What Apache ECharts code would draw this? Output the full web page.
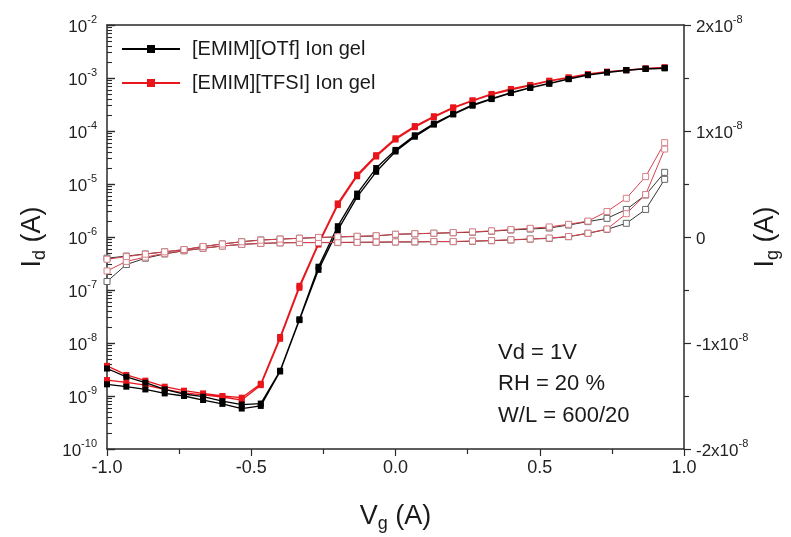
<!DOCTYPE html>
<html>
<head>
<meta charset="utf-8">
<script src="https://cdn.jsdelivr.net/npm/echarts@6/dist/echarts.min.js"></script>
<style>
  html, body { margin: 0; padding: 0; background: #fff; }
  #main { width: 791px; height: 537px; }
</style>
</head>
<body>
<div id="main"></div>
<script>
// gate voltage sweep (V)
const vg = [-1.0, -0.933, -0.867, -0.8, -0.733, -0.667, -0.6, -0.533, -0.467, -0.4,
  -0.333, -0.267, -0.2, -0.133, -0.067, 0.0, 0.067, 0.133, 0.2, 0.267,
  0.333, 0.4, 0.467, 0.533, 0.6, 0.667, 0.733, 0.8, 0.867, 0.933];

// drain current Id (A), forward and reverse sweep
const idOTfFwd = [1.66e-9, 1.5e-9, 1.33e-9, 1.12e-9, 1.0e-9, 8.4e-10, 7.1e-10, 5.8e-10, 6.5e-10, 2.9e-9,
  2.7e-8, 2.4e-7, 1.35e-6, 5.7e-6, 1.7e-5, 4.1e-5, 7.8e-5, 1.32e-4, 2.05e-4, 3.0e-4,
  4.0e-4, 5.2e-4, 6.5e-4, 7.8e-4, 9.5e-4, 1.13e-3, 1.27e-3, 1.40e-3, 1.48e-3, 1.52e-3];
const idOTfRev = [3.3e-9, 2.3e-9, 1.78e-9, 1.33e-9, 1.09e-9, 9.7e-10, 8.0e-10, 6.9e-10, 7.2e-10, 3.0e-9,
  2.8e-8, 2.75e-7, 1.6e-6, 6.6e-6, 2.0e-5, 4.4e-5, 8.3e-5, 1.38e-4, 2.1e-4, 3.1e-4,
  4.1e-4, 5.3e-4, 6.6e-4, 7.9e-4, 9.6e-4, 1.14e-3, 1.28e-3, 1.41e-3, 1.5e-3, 1.55e-3];
const idTFSIFwd = [2.0e-9, 1.8e-9, 1.6e-9, 1.33e-9, 1.15e-9, 1.05e-9, 9.5e-10, 8.4e-10, 1.6e-9, 1.2e-8,
  1.1e-7, 7.2e-7, 4.0e-6, 1.4e-5, 3.3e-5, 6.9e-5, 1.18e-4, 1.82e-4, 2.7e-4, 3.7e-4,
  4.85e-4, 6.0e-4, 7.2e-4, 8.7e-4, 1.01e-3, 1.17e-3, 1.3e-3, 1.4e-3, 1.5e-3, 1.58e-3];
const idTFSIRev = [3.7e-9, 2.5e-9, 1.95e-9, 1.5e-9, 1.26e-9, 1.12e-9, 1.0e-9, 9.3e-10, 1.7e-9, 1.3e-8,
  1.2e-7, 7.7e-7, 4.3e-6, 1.5e-5, 3.5e-5, 7.3e-5, 1.24e-4, 1.9e-4, 2.8e-4, 3.8e-4,
  5.0e-4, 6.2e-4, 7.4e-4, 8.9e-4, 1.03e-3, 1.19e-3, 1.32e-3, 1.41e-3, 1.52e-3, 1.59e-3];

// gate current Ig (A), forward and reverse sweep
const igOTfFwd = [-4.2e-9, -2.6e-9, -2.0e-9, -1.6e-9, -1.3e-9, -1.07e-9, -0.85e-9, -0.7e-9, -0.6e-9, -0.55e-9,
  -0.53e-9, -0.53e-9, -0.53e-9, -0.5e-9, -0.5e-9, -0.47e-9, -0.47e-9, -0.44e-9, -0.44e-9, -0.4e-9,
  -0.35e-9, -0.28e-9, -0.2e-9, -0.13e-9, 0.03e-9, 0.35e-9, 0.72e-9, 1.29e-9, 2.6e-9, 5.44e-9];
const igOTfRev = [-2.0e-9, -1.8e-9, -1.6e-9, -1.4e-9, -1.2e-9, -0.9e-9, -0.66e-9, -0.44e-9, -0.28e-9, -0.2e-9,
  -0.12e-9, -0.05e-9, 0.0, 0.05e-9, 0.1e-9, 0.25e-9, 0.3e-9, 0.35e-9, 0.4e-9, 0.45e-9,
  0.55e-9, 0.66e-9, 0.75e-9, 0.85e-9, 1.13e-9, 1.45e-9, 1.76e-9, 2.6e-9, 3.96e-9, 6.1e-9];
const igTFSIFwd = [-3.2e-9, -2.3e-9, -1.9e-9, -1.55e-9, -1.28e-9, -1.05e-9, -0.85e-9, -0.7e-9, -0.6e-9, -0.55e-9,
  -0.52e-9, -0.52e-9, -0.5e-9, -0.5e-9, -0.48e-9, -0.46e-9, -0.45e-9, -0.43e-9, -0.42e-9, -0.38e-9,
  -0.33e-9, -0.26e-9, -0.18e-9, -0.1e-9, 0.05e-9, 0.35e-9, 0.75e-9, 2.2e-9, 4.0e-9, 8.3e-9];
const igTFSIRev = [-2.1e-9, -1.85e-9, -1.62e-9, -1.4e-9, -1.18e-9, -0.9e-9, -0.66e-9, -0.45e-9, -0.3e-9, -0.2e-9,
  -0.12e-9, -0.04e-9, 0.02e-9, 0.07e-9, 0.12e-9, 0.26e-9, 0.31e-9, 0.36e-9, 0.42e-9, 0.48e-9,
  0.58e-9, 0.7e-9, 0.82e-9, 0.95e-9, 1.2e-9, 1.5e-9, 2.4e-9, 3.65e-9, 5.7e-9, 8.9e-9];

const seriesNames = ["[EMIM][OTf] Ion gel", "[EMIM][TFSI] Ion gel"];
const notes = ["Vd = 1V", "RH = 20 %", "W/L = 600/20"];

// forward sweep then back again, as one loop
function loop(fwd, rev) {
  const a = vg.map((v, i) => [v, fwd[i]]);
  const b = vg.map((v, i) => [v, rev[i]]).reverse();
  return a.concat(b);
}

// log minor ticks 2..9 per decade
const minorLog = [];
for (let e = -10; e < -2; e++) {
  for (let m = 2; m <= 9; m++) minorLog.push(m * Math.pow(10, e));
}

const font = "Liberation Sans, Arial, sans-serif";
const axisColor = "#2a2a2a";
const nameRich = {
  b: { fontSize: 27, lineHeight: 30, verticalAlign: "top", color: "#1a1a1a", fontFamily: font },
  s: { fontSize: 18, lineHeight: 18, verticalAlign: "bottom", padding: [16, 0, 0, 0], color: "#1a1a1a", fontFamily: font },
};
const supRich = {
  b: { fontSize: 17, lineHeight: 22, verticalAlign: "bottom", color: "#222", fontFamily: font },
  sup: { fontSize: 11, lineHeight: 11, verticalAlign: "top", color: "#222", fontFamily: font },
};

let myChart = echarts.init(document.getElementById("main"));
let option = {
  animation: false,
  textStyle: { fontFamily: font },
  grid: {
    left: 107,
    right: 107,
    top: 25,
    bottom: 88,
    containLabel: false,
    outerBoundsMode: "none",
  },
  legend: {
    data: seriesNames,
    orient: "vertical",
    left: 116,
    top: 33,
    itemWidth: 58,
    itemHeight: 10,
    itemGap: 12,
    textStyle: {
      fontSize: 20,
      color: "#1a1a1a",
      lineHeight: 22,
      padding: [0, 0, 0, 7],
      fontFamily: font,
    },
  },
  xAxis: [
    {
      type: "value",
      min: -1,
      max: 1,
      interval: 0.5,
      position: "bottom",
      name: "{b|V}{s|g}{b| (A)}",
      nameLocation: "middle",
      nameGap: 54,
      nameMoveOverlap: false,
      nameTextStyle: { rich: nameRich },
      axisLine: { onZero: false, lineStyle: { color: axisColor, width: 1.5 } },
      axisTick: { inside: false, length: 7, lineStyle: { color: axisColor, width: 1.2 } },
      minorTick: { show: true, splitNumber: 2, length: 5, lineStyle: { color: axisColor, width: 1.2 } },
      splitLine: { show: false },
      minorSplitLine: { show: false },
      axisLabel: {
        fontSize: 18,
        color: "#222",
        margin: 10,
        formatter: (v) => v.toFixed(1),
      },
    },
    {
      // top frame line
      type: "value",
      min: -1,
      max: 1,
      position: "top",
      axisLine: { show: true, onZero: false, lineStyle: { color: axisColor, width: 1.5 } },
      axisTick: { show: false },
      axisLabel: { show: false },
      splitLine: { show: false },
    },
  ],
  yAxis: [
    {
      type: "log",
      logBase: 10,
      min: 1e-10,
      max: 1e-2,
      splitNumber: 8,
      position: "left",
      name: "{b|I}{s|d}{b| (A)}",
      nameLocation: "middle",
      nameRotate: 90,
      nameGap: 58,
      nameMoveOverlap: false,
      nameTextStyle: { rich: nameRich },
      axisLine: { show: true, onZero: false, lineStyle: { color: axisColor, width: 1.5 } },
      axisTick: { show: true, inside: true, length: 8, lineStyle: { color: axisColor, width: 1.4 } },
      splitLine: { show: false },
      axisLabel: {
        margin: 10,
        formatter: (v) => "{b|10}{sup|" + Math.round(Math.log10(v)) + "}",
        rich: supRich,
      },
    },
    {
      type: "value",
      min: -2e-8,
      max: 2e-8,
      interval: 1e-8,
      position: "right",
      name: "{b|I}{s|g}{b| (A)}",
      nameLocation: "middle",
      nameRotate: 90,
      nameGap: 68,
      nameMoveOverlap: false,
      nameTextStyle: { rich: nameRich },
      axisLine: { show: true, onZero: false, lineStyle: { color: axisColor, width: 1.5 } },
      axisTick: { inside: false, length: 7, lineStyle: { color: axisColor, width: 1.2 } },
      minorTick: { show: true, splitNumber: 2, length: 5, lineStyle: { color: axisColor, width: 1.2 } },
      splitLine: { show: false },
      minorSplitLine: { show: false },
      axisLabel: {
        margin: 12,
        formatter: (v) => {
          let k = Math.round(v / 1e-8);
          if (k === 0) return "{b|0}";
          return "{b|" + k + "x10}{sup|-8}";
        },
        rich: supRich,
      },
    },
    {
      // minor ticks of the log axis
      type: "log",
      logBase: 10,
      min: 1e-10,
      max: 1e-2,
      position: "left",
      axisLine: { show: false, onZero: false },
      axisLabel: { show: false },
      splitLine: { show: false },
      axisTick: {
        show: true,
        inside: true,
        length: 5,
        customValues: minorLog,
        lineStyle: { color: axisColor, width: 1.1 },
      },
    },
  ],
  series: [
    {
      name: seriesNames[0],
      type: "line",
      yAxisIndex: 0,
      symbol: "rect",
      symbolSize: 6,
      color: "#000",
      lineStyle: { color: "#000", width: 1.3 },
      itemStyle: { color: "#000" },
      data: loop(idOTfFwd, idOTfRev),
      z: 3,
    },
    {
      name: seriesNames[1],
      type: "line",
      yAxisIndex: 0,
      symbol: "rect",
      symbolSize: 6,
      color: "#e8161b",
      lineStyle: { color: "#e8161b", width: 1.3 },
      itemStyle: { color: "#e8161b" },
      data: loop(idTFSIFwd, idTFSIRev),
      z: 2,
    },
    {
      name: "Ig OTf",
      type: "line",
      yAxisIndex: 1,
      symbol: "rect",
      symbolSize: 6,
      lineStyle: { color: "#333", width: 1 },
      itemStyle: { color: "#fff", borderColor: "#666", borderWidth: 1 },
      data: loop(igOTfFwd, igOTfRev),
      z: 4,
    },
    {
      name: "Ig TFSI",
      type: "line",
      yAxisIndex: 1,
      symbol: "rect",
      symbolSize: 6,
      lineStyle: { color: "#d9424c", width: 1 },
      itemStyle: { color: "#fff", borderColor: "#d98088", borderWidth: 1 },
      data: loop(igTFSIFwd, igTFSIRev),
      z: 4,
    },
  ],
  graphic: [
    {
      type: "text",
      left: 498,
      top: 337,
      style: {
        text: notes.join("\n"),
        font: "22px " + font,
        lineHeight: 31.5,
        fill: "#1a1a1a",
      },
    },
  ],
};
myChart.setOption(option);
</script>
</body>
</html>
